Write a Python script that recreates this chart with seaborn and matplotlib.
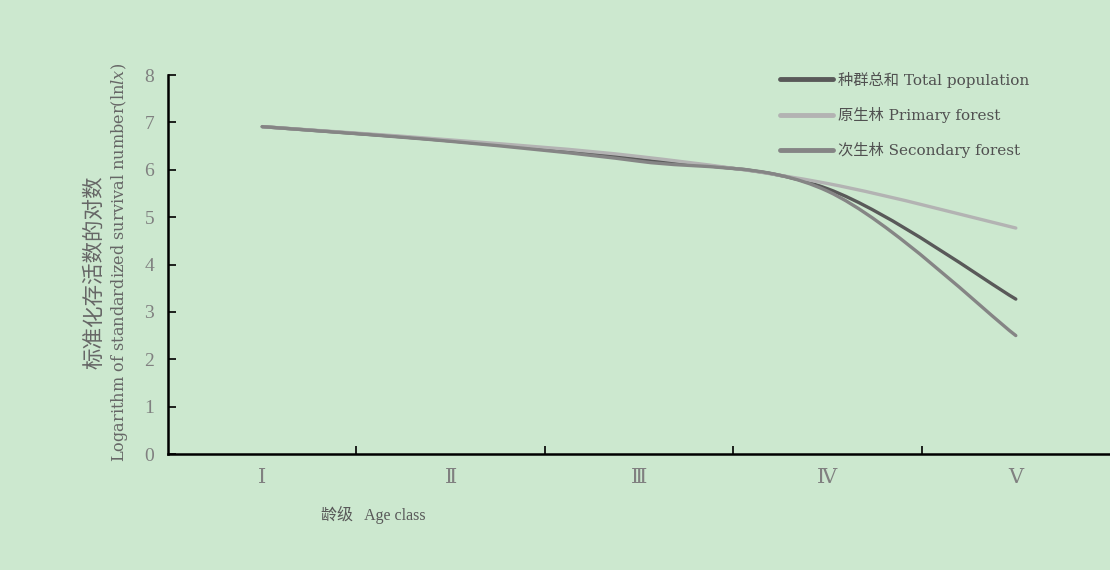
import numpy as np
import pandas as pd
import matplotlib
matplotlib.use('Agg')
import matplotlib.pyplot as plt
import seaborn as sns
from matplotlib.path import Path
from matplotlib.patches import PathPatch
from matplotlib.lines import Line2D

# data
age_labels = ['Ⅰ', 'Ⅱ', 'Ⅲ', 'Ⅳ', 'Ⅴ']
total = [6.91, 6.61, 6.22, 5.60, 3.27]
primary = [6.91, 6.63, 6.28, 5.71, 4.77]
secondary = [6.91, 6.60, 6.18, 5.55, 2.50]
groups = ['种群总和 Total population', '原生林 Primary forest', '次生林 Secondary forest']
colors = ['#595959', '#b3b3b3', '#858585']

bg = '#cce8cf'
sns.set_theme(style='white', rc={'axes.facecolor': bg, 'figure.facecolor': bg})
plt.rcParams['font.family'] = ['Liberation Serif', 'DejaVu Serif', 'Noto Sans CJK SC']
plt.rcParams['mathtext.fontset'] = 'custom'
plt.rcParams['mathtext.it'] = 'DejaVu Serif:italic'
plt.rcParams['mathtext.rm'] = 'DejaVu Serif'
wide = ['DejaVu Serif', 'Noto Sans CJK SC']

df = pd.DataFrame({
    'x': list(range(5)) * 3,
    'value': total + primary + secondary,
    'group': [groups[0]] * 5 + [groups[1]] * 5 + [groups[2]] * 5,
})

fig = plt.figure(figsize=(11.1, 5.7), dpi=100)
ax = fig.add_axes([0.1514, 0.2035, 0.8486, 0.6649])

sns.lineplot(data=df, x='x', y='value', hue='group', hue_order=groups,
             palette=colors, linewidth=2.4, legend=False, ax=ax)


def smooth_path(xy):
    # excel-style smoothed line: cubic bezier through the points
    pts = np.asarray(xy)
    n = len(pts)
    verts = [pts[0]]
    codes = [Path.MOVETO]
    for i in range(n - 1):
        p0 = pts[i - 1] if i > 0 else pts[i]
        p1, p2 = pts[i], pts[i + 1]
        p3 = pts[i + 2] if i + 2 < n else pts[i + 1]
        verts += [p1 + (p2 - p0) / 6, p2 - (p3 - p1) / 6, p2]
        codes += [Path.CURVE4] * 3
    return Path(verts, codes)


for line, c in zip(list(ax.lines), colors):
    patch = PathPatch(smooth_path(line.get_xydata()), fill=False, edgecolor=c,
                      lw=2.4, capstyle='round', joinstyle='round', zorder=3)
    ax.add_patch(patch)
    line.set_visible(False)

ax.set_xlim(-0.5, 4.5)
ax.set_ylim(0, 8)
ax.set_xticks(range(5))
ax.set_xticklabels(age_labels)
ax.set_xticks([0.5, 1.5, 2.5, 3.5], minor=True)
ax.set_yticks(range(9))
ax.tick_params(axis='x', which='major', length=0, pad=11, labelsize=15, colors='#808080')
ax.tick_params(axis='x', which='minor', direction='in', length=6, width=1.2, color='black', bottom=True)
ax.tick_params(axis='y', direction='in', length=6, width=1.2, color='black', left=True,
               pad=10, labelsize=14, labelcolor='#808080')
ax.set_xlabel('')
ax.set_ylabel('')
for s in ['top', 'right']:
    ax.spines[s].set_visible(False)
for s in ['left', 'bottom']:
    ax.spines[s].set_color('black')
    ax.spines[s].set_linewidth(1.8)

fig.text(373 / 1110, 1 - 515 / 570, '龄级   Age class', ha='center', va='center',
         fontsize=11.5, color='#595959')
fig.text(95 / 1110, 1 - 272 / 570, '标准化存活数的对数', rotation=90, ha='center', va='center',
         fontsize=15.5, color='#666666')
fig.text(119 / 1110, 1 - 262 / 570, r'Logarithm of standardized survival number(ln$\mathit{lx}$)',
         rotation=90, ha='center', va='center', fontsize=11.6, color='#666666', family=wide)

handles = [Line2D([], [], color=c, lw=3.5) for c in colors]
leg = fig.legend(handles, groups, loc='upper left', bbox_to_anchor=(766 / 1110, 1 - 58 / 570),
                 frameon=False, handlelength=3.5, handletextpad=0.3,
                 labelspacing=1.25, labelcolor='#505050',
                 prop={'family': wide, 'size': 11})

fig.savefig('out.png', dpi=100, facecolor=bg)
